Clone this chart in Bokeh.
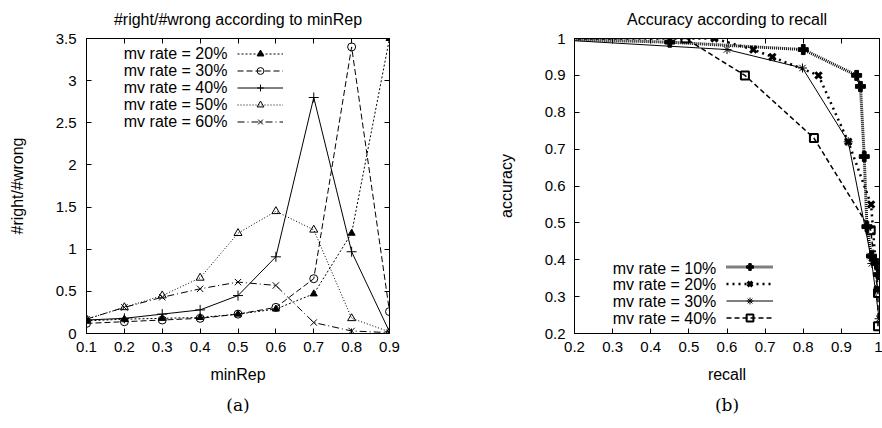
from bokeh.plotting import figure
from bokeh.models import (Range1d, FixedTicker, LinearAxis, Legend, LegendItem, Label, Title,
                          CustomLabelingPolicy)
from bokeh.layouts import row
from bokeh.embed import file_html
from bokeh.resources import INLINE
from bokeh.core.properties import value

FONT = "Liberation Sans"
SERIF = "DejaVu Serif"

# ---------------- data: chart (a) ----------------
min_rep = [0.1, 0.2, 0.3, 0.4, 0.5, 0.6, 0.7, 0.8, 0.9]
ratio_mv20 = [0.15, 0.17, 0.18, 0.19, 0.23, 0.29, 0.47, 1.19, 3.5]
ratio_mv30 = [0.12, 0.14, 0.16, 0.18, 0.23, 0.31, 0.65, 3.40, 0.26]
ratio_mv40 = [0.16, 0.18, 0.23, 0.28, 0.45, 0.91, 2.80, 0.97, 0.02]
ratio_mv50 = [0.17, 0.31, 0.45, 0.66, 1.19, 1.45, 1.23, 0.18, 0.02]
ratio_mv60 = [0.17, 0.31, 0.43, 0.53, 0.61, 0.57, 0.13, 0.03, 0.01]
labels_a = ["mv rate = 20%", "mv rate = 30%", "mv rate = 40%", "mv rate = 50%", "mv rate = 60%"]
xticks_a = [0.1, 0.2, 0.3, 0.4, 0.5, 0.6, 0.7, 0.8, 0.9]
xlabels_a = ["0.1", "0.2", "0.3", "0.4", "0.5", "0.6", "0.7", "0.8", "0.9"]
yticks_a = [0, 0.5, 1, 1.5, 2, 2.5, 3, 3.5]
ylabels_a = ["0", "0.5", "1", "1.5", "2", "2.5", "3", "3.5"]

# ---------------- data: chart (b) ----------------
recall_mv10 = [0.10, 0.45, 0.80, 0.94, 0.95, 0.96, 0.967, 0.979, 0.992, 0.997]
acc_mv10 = [1.00, 0.99, 0.97, 0.90, 0.87, 0.68, 0.49, 0.41, 0.39, 0.36]
recall_mv20 = [0.10, 0.567, 0.669, 0.719, 0.840, 0.918, 0.978, 0.995]
acc_mv20 = [1.00, 1.00, 0.97, 0.95, 0.90, 0.72, 0.55, 0.32]
recall_mv30 = [0.10, 0.60, 0.798, 0.918, 0.977, 0.98, 0.999]
acc_mv30 = [1.00, 0.97, 0.92, 0.72, 0.41, 0.39, 0.24]
recall_mv40 = [0.10, 0.491, 0.647, 0.828, 0.977, 0.996, 0.996]
acc_mv40 = [1.00, 1.00, 0.90, 0.73, 0.48, 0.31, 0.22]
labels_b = ["mv rate = 10%", "mv rate = 20%", "mv rate = 30%", "mv rate = 40%"]
xticks_b = [0.2, 0.3, 0.4, 0.5, 0.6, 0.7, 0.8, 0.9, 1.0]
xlabels_b = ["0.2", "0.3", "0.4", "0.5", "0.6", "0.7", "0.8", "0.9", "1"]
yticks_b = [0.2, 0.3, 0.4, 0.5, 0.6, 0.7, 0.8, 0.9, 1.0]
ylabels_b = ["0.2", "0.3", "0.4", "0.5", "0.6", "0.7", "0.8", "0.9", "1"]

NO_LABELS = CustomLabelingPolicy(code="""
const ids = Array.from(indices);
for (const i of ids) {
  if (typeof indices.unset === "function") { indices.unset(i) } else { indices.delete(i) }
}
return indices
""")


def make_fig(title, xr, yr, left, right, fw, caption):
    p = figure(frame_width=fw, frame_height=295,
               x_range=Range1d(*xr), y_range=Range1d(*yr),
               output_backend="svg", toolbar_location=None,
               min_border_left=left, min_border_right=right,
               min_border_top=38, min_border_bottom=90)
    p.title.text = title
    p.title.align = "center"
    p.title.vertical_align = "top"
    p.title.text_font = FONT
    p.title.text_font_size = "16px"
    p.title.text_font_style = "normal"
    p.title.text_color = "black"
    p.title.standoff = 17
    p.grid.visible = False
    p.outline_line_color = "black"
    p.outline_line_alpha = 1
    p.outline_line_width = 1
    p.background_fill_color = "white"
    p.border_fill_color = "white"
    cap = Title(text=caption, align="center", text_font=SERIF, text_font_size="17px",
                text_font_style="normal", text_color="black", standoff=14)
    p.add_layout(cap, "below")
    return p


def style_axis(ax, ticks, labels, show_labels=True):
    ax.ticker = FixedTicker(ticks=ticks)
    ax.major_tick_in = 5
    ax.major_tick_out = 0
    ax.minor_tick_in = 0
    ax.minor_tick_out = 0
    ax.axis_line_color = "black"
    ax.major_tick_line_color = "black"
    ax.major_label_text_font = FONT
    ax.major_label_text_color = "black"
    ax.axis_label_text_font = FONT
    ax.axis_label_text_font_size = "16px"
    ax.axis_label_text_font_style = "normal"
    ax.axis_label_text_color = "black"
    if show_labels:
        ax.major_label_text_font_size = "15px"
        ax.major_label_overrides = {t: l for t, l in zip(ticks, labels)}
    else:
        ax.major_label_text_font_size = "0px"
        ax.major_label_policy = NO_LABELS
        ax.major_label_standoff = 0


def add_mirror_axes(p, xt, xl, yt, yl):
    top = LinearAxis()
    style_axis(top, xt, xl, show_labels=False)
    p.add_layout(top, "above")
    rt = LinearAxis()
    style_axis(rt, yt, yl, show_labels=False)
    p.add_layout(rt, "right")


# ================= chart (a) =================
pa = make_fig("#right/#wrong according to minRep", (0.1, 0.9), (0, 3.5), 86, 52, 303, "(a)")
style_axis(pa.below[0], xticks_a, xlabels_a)
style_axis(pa.left[0], yticks_a, ylabels_a)
pa.below[0].axis_label = "minRep"
pa.below[0].major_label_standoff = 8
pa.below[0].axis_label_standoff = 11
pa.left[0].axis_label = "#right/#wrong"
pa.left[0].major_label_standoff = 10
pa.left[0].axis_label_standoff = 27
add_mirror_axes(pa, xticks_a, xlabels_a, yticks_a, ylabels_a)

series_a = [
    (ratio_mv20, "2 2", "triangle", "black", 7),
    (ratio_mv30, "6 3", "circle", None, 8),
    (ratio_mv40, "solid", "cross", None, 10),
    (ratio_mv50, "1 2", "triangle", None, 8),
    (ratio_mv60, "7 3 1 3", "x", None, 9),
]
items_a = []
for (vals, dash, marker, fill, size) in series_a:
    lr = pa.line(min_rep, vals, line_color="black", line_width=1, line_dash=dash)
    sr = pa.scatter(min_rep, vals, marker=marker, size=size, line_color="black",
                    fill_color=fill, line_width=1)
    items_a.append(LegendItem(label=value(""), renderers=[lr, sr]))

leg_a = Legend(items=items_a, location=(151, 203), glyph_width=46, glyph_height=17,
               label_width=0, label_height=0, label_standoff=0, label_text_font_size="1px",
               spacing=0, padding=0, margin=0, background_fill_alpha=0, border_line_alpha=0)
pa.add_layout(leg_a)
leg_y_a = [3.32, 3.12, 2.92, 2.72, 2.52]
for txt, yy in zip(labels_a, leg_y_a):
    pa.add_layout(Label(x=0.472, y=yy, text=txt, text_align="right", text_baseline="middle",
                        text_font=FONT, text_font_size="16px", text_color="black"))

# ================= chart (b) =================
pb = make_fig("Accuracy according to recall", (0.2, 1.0), (0.2, 1.0), 133, 3, 305, "(b)")
style_axis(pb.below[0], xticks_b, xlabels_b)
style_axis(pb.left[0], yticks_b, ylabels_b)
pb.below[0].axis_label = "recall"
pb.below[0].major_label_standoff = 8
pb.below[0].axis_label_standoff = 11
pb.left[0].axis_label = "accuracy"
pb.left[0].major_label_standoff = 9
pb.left[0].axis_label_standoff = 27
add_mirror_axes(pb, xticks_b, xlabels_b, yticks_b, ylabels_b)

series_b = [
    (recall_mv10, acc_mv10, "1 1", 3, "plus", "black", 10, 1),
    (recall_mv20, acc_mv20, "2 4", 2.5, "x", None, 9, 3),
    (recall_mv30, acc_mv30, "solid", 1, "asterisk", None, 9, 1),
    (recall_mv40, acc_mv40, "5 3", 1.5, "square", None, 8, 2),
]
items_b = []
for (xs, ys, dash, lw, marker, fill, size, mlw) in series_b:
    lr = pb.line(xs, ys, line_color="black", line_width=lw, line_dash=dash)
    sr = pb.scatter(xs, ys, marker=marker, size=size, line_color="black",
                    fill_color=fill, line_width=mlw)
    items_b.append(LegendItem(label=value(""), renderers=[lr, sr]))

leg_b = Legend(items=items_b, location=(152, 7), glyph_width=47, glyph_height=17,
               label_width=0, label_height=0, label_standoff=0, label_text_font_size="1px",
               spacing=0, padding=0, margin=0, background_fill_alpha=0, border_line_alpha=0)
pb.add_layout(leg_b)
leg_y_b = [0.377, 0.333, 0.287, 0.241]
for txt, yy in zip(labels_b, leg_y_b):
    pb.add_layout(Label(x=0.572, y=yy, text=txt, text_align="right", text_baseline="middle",
                        text_font=FONT, text_font_size="16px", text_color="black"))

layout = row(pa, pb)
open("out.html", "w").write(file_html(layout, INLINE))
